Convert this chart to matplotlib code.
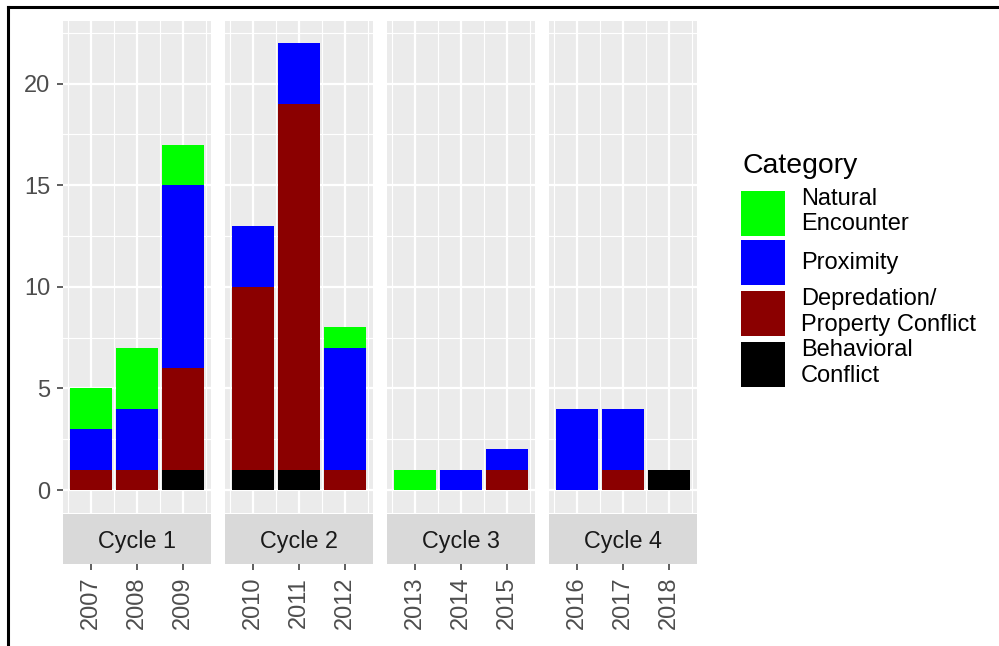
import numpy as np
import matplotlib
matplotlib.use('Agg')
import matplotlib.pyplot as plt
from matplotlib.patches import Patch, Rectangle
from matplotlib.lines import Line2D
from matplotlib.legend_handler import HandlerPatch

plt.rcParams['font.family'] = ['Liberation Sans', 'DejaVu Sans']

# ###########################################################################
# Data (counts per year, stacked by category)
cycles = ['Cycle 1', 'Cycle 2', 'Cycle 3', 'Cycle 4']
years = ['2007', '2008', '2009', '2010', '2011', '2012',
         '2013', '2014', '2015', '2016', '2017', '2018']
behavioral = [0, 0, 1, 1, 1, 0, 0, 0, 0, 0, 0, 1]
depredation = [1, 1, 5, 9, 18, 1, 0, 0, 1, 0, 1, 0]
proximity = [2, 3, 9, 3, 3, 6, 0, 1, 1, 4, 3, 0]
natural = [2, 3, 2, 0, 0, 1, 1, 0, 0, 0, 0, 0]

categories = ['Natural\nEncounter', 'Proximity',
              'Depredation/\nProperty Conflict', 'Behavioral\nConflict']
colors = ['#00FF00', '#0000FF', '#8B0000', '#000000']

# stacking order bottom -> top
stack = [behavioral, depredation, proximity, natural]
stack_colors = ['#000000', '#8B0000', '#0000FF', '#00FF00']

W, H = 999, 646
def px_rect(x0, y0, x1, y1):
    return [x0 / W, 1 - y1 / H, (x1 - x0) / W, (y1 - y0) / H]

totals = np.sum(np.array(stack), axis=0)
ymax = totals.max()
ylim = (-0.05 * ymax, 1.05 * ymax)

fig = plt.figure(figsize=(W / 100, H / 100), dpi=100)

npanel = 3
for i, cyc in enumerate(cycles):
    x0 = 63 + i * 162
    x1 = x0 + 148
    ax = fig.add_axes(px_rect(x0, 20.5, x1, 512.5))
    sax = fig.add_axes(px_rect(x0, 514, x1, 563.5))

    xs = np.arange(npanel)
    bottom = np.zeros(npanel)
    for vals, c in zip(stack, stack_colors):
        v = np.array(vals[i * npanel:(i + 1) * npanel], dtype=float)
        ax.bar(xs, v, width=0.9, bottom=bottom, color=c, linewidth=0, zorder=3)
        bottom += v

    xlim = (-0.6, npanel - 0.4)
    ax.set_xlim(xlim)
    ax.set_ylim(ylim)
    ax.set_facecolor('#EBEBEB')
    for s in ax.spines.values():
        s.set_visible(False)
    ax.set_xticks(xs)
    ax.set_xticks(np.arange(-0.5, npanel, 1.0), minor=True)
    ax.set_yticks([0, 5, 10, 15, 20])
    ax.set_yticks([2.5, 7.5, 12.5, 17.5, 22.5], minor=True)
    ax.grid(True, which='major', color='white', linewidth=1.6, zorder=0)
    ax.grid(True, which='minor', color='white', linewidth=0.8, zorder=0)
    ax.set_axisbelow(True)
    ax.tick_params(axis='x', which='both', length=0, labelbottom=False)
    ax.tick_params(axis='y', which='minor', length=0)
    if i == 0:
        ax.tick_params(axis='y', which='major', length=4.3, width=1.1, color='#333333',
                       labelsize=17, labelcolor='#4D4D4D', pad=5)
    else:
        ax.tick_params(axis='y', which='major', length=0, labelleft=False)

    # strip below the panel
    sax.set_xlim(xlim)
    sax.set_ylim(0, 1)
    sax.set_facecolor('#D9D9D9')
    for s in sax.spines.values():
        s.set_visible(False)
    sax.set_yticks([])
    sax.set_xticks(xs)
    sax.set_xticklabels(years[i * npanel:(i + 1) * npanel], rotation=90)
    sax.tick_params(axis='x', length=4.6, width=1.1, color='#333333',
                    labelsize=17, labelcolor='#4D4D4D', pad=5)
    sax.text(0.5, 0.45, cyc, transform=sax.transAxes, ha='center', va='center',
             fontsize=16.8, color='#1A1A1A')


# legend keys: fixed height, centred on the handle box
def key_patch(legend, orig_handle, xdescent, ydescent, width, height, fontsize):
    kh = 45 * 72 / 100
    return Rectangle((-xdescent, -ydescent + height / 2 - kh / 2), width, kh)

handles = [Patch(facecolor=c, edgecolor='none') for c in colors]
leg = fig.legend(handles, categories, loc='upper left',
                 bbox_to_anchor=(741 / W, 1 - 188 / H), frameon=False,
                 fontsize=17, handlelength=1.86, handleheight=2.62, handletextpad=0.68,
                 labelspacing=0.13, borderpad=0, borderaxespad=0,
                 handler_map={Patch: HandlerPatch(patch_func=key_patch)})
for t in leg.get_texts():
    t.set_linespacing(1.2)
fig.text(742 / W, 1 - 173 / H, 'Category', ha='left', va='baseline',
         fontsize=20.4, color='black')

# frame lines of the screenshot
fig.add_artist(Line2D([7.5 / W, 7.5 / W], [0, 1 - 6.5 / H], color='black', linewidth=2.2))
fig.add_artist(Line2D([7.5 / W, 1], [1 - 6.5 / H, 1 - 6.5 / H], color='black', linewidth=2.2))

fig.savefig('out.png', dpi=100)
